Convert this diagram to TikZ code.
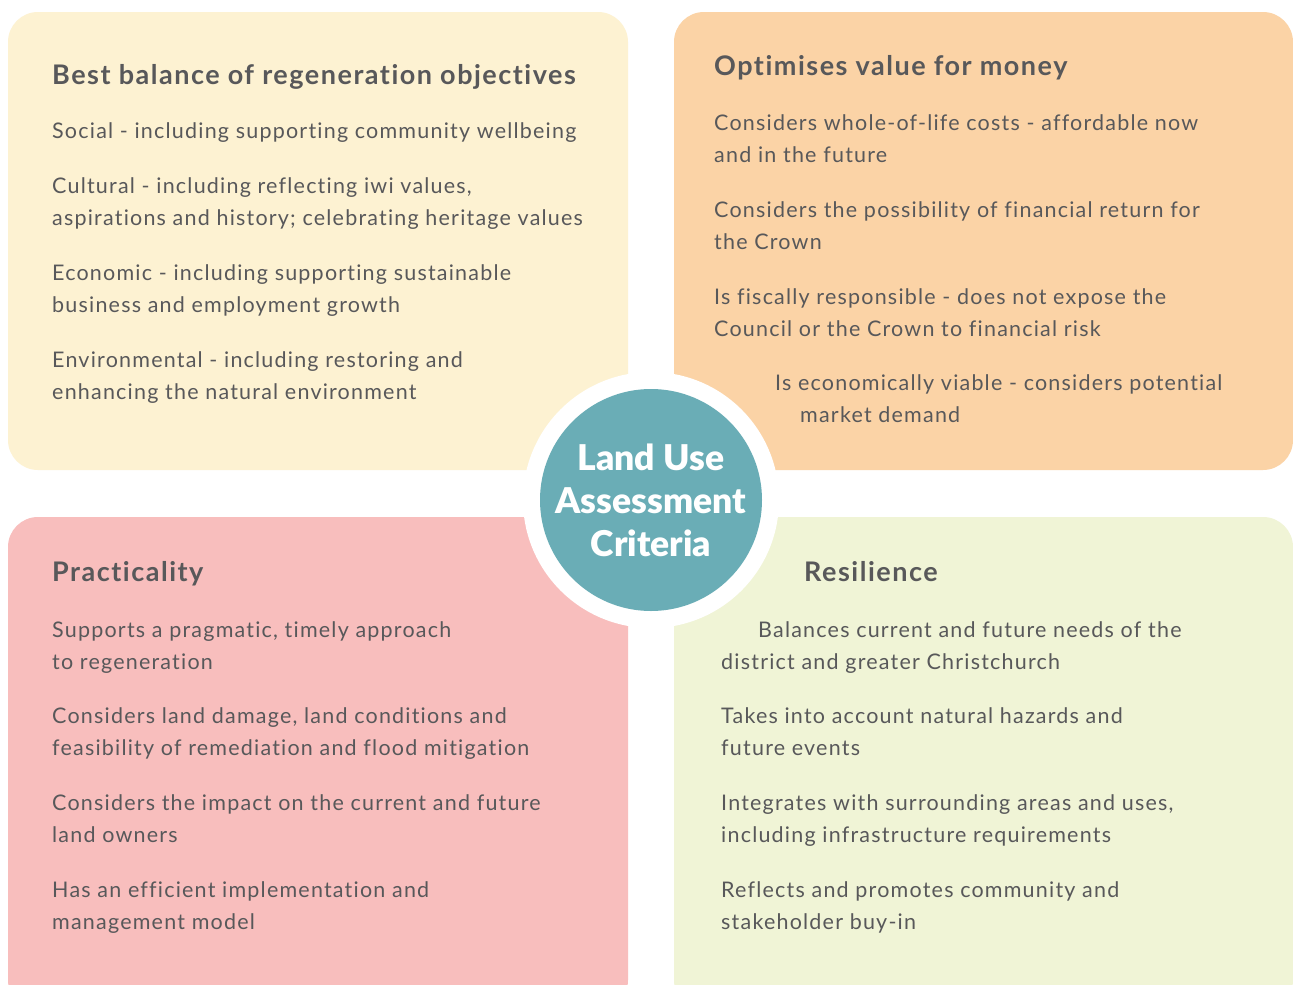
\documentclass[tikz,border=0pt]{standalone}
\usepackage{fontspec}
\setmainfont{Lato}[LetterSpace=5.6, Ligatures=NoCommon]
\newfontfamily\badgefont{Lato Black}
\usepackage{xcolor}
\usetikzlibrary{positioning}
\definecolor{luYellow}{RGB}{253,242,210}
\definecolor{luOrange}{RGB}{251,211,166}
\definecolor{luPink}{RGB}{248,190,189}
\definecolor{luGreen}{RGB}{240,244,214}
\definecolor{luTeal}{RGB}{106,173,182}
\definecolor{luText}{RGB}{88,88,90}

\begin{document}
\begin{tikzpicture}[x=1pt,y=-1pt,
  panel/.style={rounded corners=30pt},
  head/.style={anchor=base west, inner sep=0pt, text=luText, font=\fontsize{27}{30}\selectfont\bfseries},
  body/.style={anchor=base west, inner sep=0pt, text=luText, font=\fontsize{21.5}{30}\selectfont}]
\useasboundingbox (0,0) rectangle (1293,985);
\fill[white] (0,0) rectangle (1293,985);

% four panels
\fill[luYellow, panel] (8,12) rectangle (628,470);
\fill[luOrange, panel] (674,12) rectangle (1293,470);
\fill[luPink, panel] (8,517) rectangle (628,1010);
\fill[luGreen, panel] (674,517) rectangle (1293,1010);

% centre badge
\fill[white] (651,500) circle (128);
\node[circle, fill=luTeal, minimum size=222pt, inner sep=0pt, text=white, align=center,
  font=\fontsize{35.5}{43}\badgefont] (criteria) at (651,500) {Land Use\\Assessment\\Criteria};

% top left
\node[head] (tlhead) at (52,84) {Best balance of regeneration objectives};
\foreach \ty/\txt [count=\i] in {138/{Social - including supporting community wellbeing},
  193/{Cultural - including reflecting iwi values,},
  225/{aspirations and history; celebrating heritage values},
  280/{Economic - including supporting sustainable},
  312/{business and employment growth},
  367/{Environmental - including restoring and},
  399/{enhancing the natural environment}}
  \node[body] (tl\i) at (52,\ty) {\txt};

% top right
\node[head] (trhead) at (714,75) {Optimises value for money};
\foreach \ty/\txt [count=\i] in {130/{Considers whole-of-life costs - affordable now},
  162/{and in the future},
  217/{Considers the possibility of financial return for},
  249/{the Crown},
  304/{Is fiscally responsible - does not expose the},
  336/{Council or the Crown to financial risk}}
  \node[body] (tr\i) at (714,\ty) {\txt};
\node[body] (tr7) at (775,390) {Is economically viable - considers potential};
\node[body] (tr8) at (800,422) {market demand};

% bottom left
\node[head] (blhead) at (52,581) {Practicality};
\foreach \ty/\txt [count=\i] in {637/{Supports a pragmatic, timely approach},
  669/{to regeneration},
  723/{Considers land damage, land conditions and},
  755/{feasibility of remediation and flood mitigation},
  810/{Considers the impact on the current and future},
  842/{land owners},
  897/{Has an efficient implementation and},
  929/{management model}}
  \node[body] (bl\i) at (52,\ty) {\txt};

% bottom right
\node[head] (brhead) at (804,581) {Resilience};
\node[body] (br1) at (758,637) {Balances current and future needs of the};
\foreach \ty/\txt [count=\i from 2] in {669/{district and greater Christchurch},
  723/{Takes into account natural hazards and},
  755/{future events},
  810/{Integrates with surrounding areas and uses,},
  842/{including infrastructure requirements},
  897/{Reflects and promotes community and},
  929/{stakeholder buy-in}}
  \node[body] (br\i) at (721,\ty) {\txt};
\end{tikzpicture}
\end{document}
